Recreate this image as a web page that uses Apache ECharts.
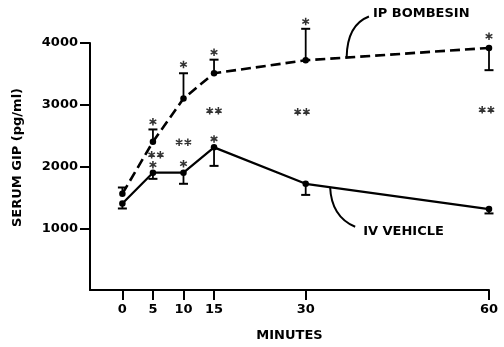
<!DOCTYPE html>
<html>
<head>
<meta charset="utf-8">
<script src="https://cdn.jsdelivr.net/npm/echarts@6/dist/echarts.min.js"></script>
<style>
html,body{margin:0;padding:0;background:#fff;}
#chart{width:504px;height:347px;}
</style>
</head>
<body>
<div id="chart"></div>
<script>
// ---- data ----
const minutes = [0, 5, 10, 15, 30, 60];
const ivVehicle = [1400, 1900, 1900, 2310, 1720, 1310];
const ivVehicleErrEnd = [1320, 1800, 1720, 2010, 1540, 1240];
const ipBombesin = [1560, 2400, 3100, 3510, 3720, 3920];
const ipBombesinErrEnd = [1660, 2600, 3510, 3730, 4230, 3560];
const xTicks = [0, 5, 10, 15, 30, 60];
const yTicks = [1000, 2000, 3000, 4000];
// significance markers [minute, value]
const singleStars = [[5, 2725], [10, 3653], [15, 3850], [30, 4349], [60, 4108],
                     [5, 2029], [10, 2045], [15, 2447]];
const doubleStars = [[5.5, 2190], [10, 2394], [15, 2902], [29.4, 2886], [59.6, 2918]];
// label leaders [minute, value]
const ipLeader = [[36.7, 3765], [36.76, 4135], [38.1, 4344], [40.35, 4429]];
const ipLabelPos = [41.0, 4473];
const ivLeader = [[34.0, 1665], [34.15, 1322], [35.6, 1129], [38.1, 1024]];
const ivLabelPos = [39.4, 950];

const FONT = 'DejaVu Sans';

function starPath(ox) {
  const polys = [
    [[40,0],[60,0],[60,100],[40,100]],
    [[1.7,33.66],[11.7,16.34],[98.3,66.34],[88.3,83.66]],
    [[88.3,16.34],[98.3,33.66],[11.7,83.66],[1.7,66.34]]
  ];
  return polys.map(p => 'M' + p.map(pt => (pt[0] + ox) + ',' + pt[1]).join('L') + 'Z').join('');
}
const SINGLE = 'path://' + starPath(0);
const DOUBLE = 'path://' + starPath(0) + starPath(115);

function zip(a, b) { return a.map((v, i) => [v, b[i]]); }
function zip3(a, b, c) { return a.map((v, i) => [v, b[i], c[i]]); }

function errRender(params, api) {
  const x = api.value(0), y = api.value(1), e = api.value(2);
  const p = api.coord([x, y]), q = api.coord([x, e]);
  const hw = 4.5;
  return {
    type: 'group',
    children: [
      { type: 'line', shape: { x1: p[0], y1: p[1], x2: q[0], y2: q[1] }, style: { stroke: '#000', lineWidth: 1.8 } },
      { type: 'line', shape: { x1: q[0] - hw, y1: q[1], x2: q[0] + hw, y2: q[1] }, style: { stroke: '#000', lineWidth: 2 } }
    ]
  };
}

const labelStyle = { fontFamily: FONT, fontWeight: 'bold', fontSize: 13, color: '#000' };

const chart = echarts.init(document.getElementById('chart'));
chart.setOption({
  animation: false,
  backgroundColor: '#fff',
  grid: { left: 90, right: 15, top: 43, bottom: 55 },
  xAxis: {
    type: 'value', min: -5.3, max: 60,
    name: 'MINUTES', nameLocation: 'middle', nameGap: 39,
    nameTextStyle: labelStyle,
    axisLine: { show: true, lineStyle: { color: '#000', width: 2 } },
    axisTick: { show: true, length: 10, lineStyle: { color: '#000', width: 2 }, customValues: xTicks },
    axisLabel: Object.assign({ margin: 13, customValues: xTicks, formatter: v => String(v) }, labelStyle),
    splitLine: { show: false }
  },
  yAxis: {
    type: 'value', min: 0, max: 4000,
    name: 'SERUM GIP (pg/ml)', nameLocation: 'middle', nameGap: 66,
    nameTextStyle: Object.assign({ padding: [0, 0, 0, 18] }, labelStyle),
    axisLine: { show: true, onZero: false, lineStyle: { color: '#000', width: 2 } },
    axisTick: { show: true, length: 10, lineStyle: { color: '#000', width: 2 }, customValues: yTicks },
    axisLabel: Object.assign({ margin: 12, customValues: yTicks, formatter: v => String(v) }, labelStyle),
    splitLine: { show: false }
  },
  series: [
    {
      name: 'IV VEHICLE', type: 'line', data: zip(minutes, ivVehicle),
      symbol: 'circle', symbolSize: 6.5, itemStyle: { color: '#000' },
      lineStyle: { color: '#000', width: 2.2 }, z: 3
    },
    {
      name: 'IP BOMBESIN', type: 'line', data: zip(minutes, ipBombesin),
      symbol: 'circle', symbolSize: 6.5, itemStyle: { color: '#000' },
      lineStyle: { color: '#000', width: 2.6, type: [10, 5] }, z: 3
    },
    { type: 'custom', renderItem: errRender, data: zip3(minutes, ivVehicle, ivVehicleErrEnd), clip: false, z: 2 },
    { type: 'custom', renderItem: errRender, data: zip3(minutes, ipBombesin, ipBombesinErrEnd), clip: false, z: 2 },
    {
      type: 'scatter', data: singleStars, symbol: SINGLE, symbolSize: [7.5, 7.5],
      itemStyle: { color: '#000' }, clip: false, silent: true
    },
    {
      type: 'scatter', data: doubleStars, symbol: DOUBLE, symbolSize: [16, 7.5],
      itemStyle: { color: '#000' }, clip: false, silent: true
    }
  ]
});

function px(d) { return chart.convertToPixel({ gridIndex: 0 }, d); }
function leader(pts) {
  const p = pts.map(px);
  return {
    type: 'bezierCurve',
    shape: { x1: p[0][0], y1: p[0][1], cpx1: p[1][0], cpy1: p[1][1], cpx2: p[2][0], cpy2: p[2][1], x2: p[3][0], y2: p[3][1] },
    style: { stroke: '#000', lineWidth: 2, fill: null }
  };
}
const ipL = px(ipLabelPos), ivL = px(ivLabelPos);
chart.setOption({
  graphic: [
    leader(ipLeader),
    leader(ivLeader),
    { type: 'text', x: ipL[0], y: ipL[1], style: { text: 'IP BOMBESIN', fill: '#000', font: 'bold 13px "' + FONT + '"', verticalAlign: 'middle', align: 'left' } },
    { type: 'text', x: ivL[0], y: ivL[1], style: { text: 'IV VEHICLE', fill: '#000', font: 'bold 13px "' + FONT + '"', verticalAlign: 'middle', align: 'left' } }
  ]
});
</script>
</body>
</html>
